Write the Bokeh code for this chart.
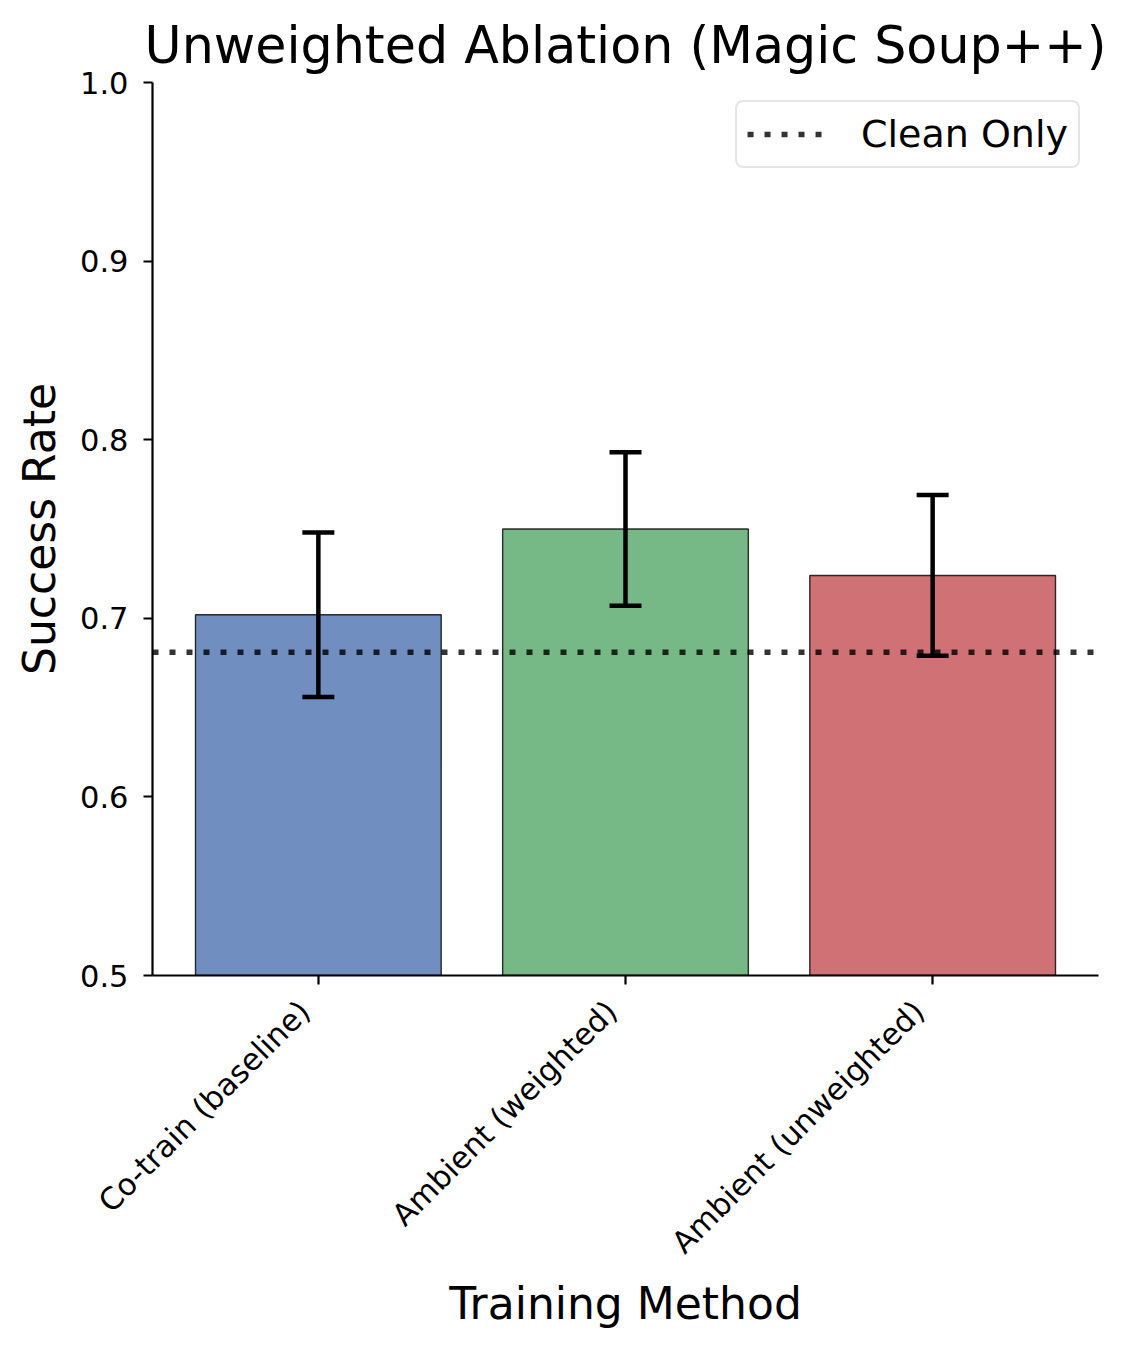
import math
from bokeh.plotting import figure
from bokeh.models import (ColumnDataSource, Range1d, FixedTicker, Whisker, TeeHead,
                          Legend, LegendItem, PrintfTickFormatter)
from bokeh.embed import file_html
from bokeh.resources import INLINE

# ---- data ----
methods = ["Co-train (baseline)", "Ambient (weighted)", "Ambient (unweighted)"]
success = [0.702, 0.750, 0.724]
errors = [0.046, 0.043, 0.045]
bar_colors = ["#4C72B0", "#55A868", "#C44E52"]
clean_only = 0.681
y_ticks = [0.5, 0.6, 0.7, 0.8, 0.9, 1.0]

FONT = "DejaVu Sans"
xs = list(range(len(methods)))
x_lo, x_hi = -0.54, len(methods) - 1 + 0.54
y_lo, y_hi = 0.5, 1.0

src = ColumnDataSource(dict(
    x=xs, top=success, color=bar_colors,
    upper=[s + e for s, e in zip(success, errors)],
    lower=[s - e for s, e in zip(success, errors)],
))

p = figure(width=1112, height=1334, output_backend="svg", toolbar_location=None,
           x_range=Range1d(x_lo, x_hi), y_range=Range1d(y_lo, y_hi),
           min_border_left=152, min_border_right=14, min_border_top=82,
           min_border_bottom=359)

p.title.text = "Unweighted Ablation (Magic Soup++)"
p.title.align = "center"
p.title.text_font = FONT
p.title.text_font_size = "50.7px"
p.title.text_font_style = "normal"
p.title.text_color = "black"
p.title.standoff = 15

p.vbar(x="x", top="top", bottom=0, width=0.8, source=src, fill_color="color",
       fill_alpha=0.8, line_color="black", line_alpha=0.8, line_width=1.4)

ln = p.line(x=[x_lo, x_hi], y=[clean_only, clean_only], line_color="black",
            line_alpha=0.8, line_width=5.5, line_dash="6 11")

w = Whisker(base="x", upper="upper", lower="lower", source=src,
            line_color="black", line_width=4.5, level="overlay",
            upper_head=TeeHead(size=32, line_color="black", line_width=4.5),
            lower_head=TeeHead(size=32, line_color="black", line_width=4.5))
p.add_layout(w)

legend = Legend(items=[LegendItem(label="Clean Only", renderers=[ln])],
                location="top_right")
legend.label_text_font = FONT
legend.label_text_font_size = "38px"
legend.label_text_color = "black"
legend.glyph_width = 80
legend.glyph_height = 30
legend.label_standoff = 34
legend.padding = 10
legend.margin = 18
legend.border_line_color = "#cccccc"
legend.border_line_width = 2.5
legend.border_radius = 8
legend.background_fill_alpha = 0.8
p.add_layout(legend)

p.xgrid.visible = False
p.ygrid.visible = False
p.outline_line_color = None

p.xaxis.ticker = FixedTicker(ticks=xs)
# trailing no-break spaces nudge the right-aligned rotated labels down-left
p.xaxis.major_label_overrides = {i: m + "\u00a0\u00a0" for i, m in zip(xs, methods)}
p.xaxis.major_label_orientation = math.pi / 4
p.yaxis.ticker = FixedTicker(ticks=y_ticks)
p.yaxis.formatter = PrintfTickFormatter(format="%.1f")

p.xaxis.axis_label = "Training Method"
p.yaxis.axis_label = "Success Rate"
for ax in (p.xaxis[0], p.yaxis[0]):
    ax.axis_label_text_font = FONT
    ax.axis_label_text_font_size = "44px"
    ax.axis_label_text_font_style = "normal"
    ax.axis_label_text_color = "black"
    ax.major_label_text_font = FONT
    ax.major_label_text_font_size = "30.5px"
    ax.major_label_text_color = "black"
    ax.axis_line_color = "black"
    ax.axis_line_width = 2.2
    ax.major_tick_line_color = "black"
    ax.major_tick_line_width = 2.2
    ax.major_tick_out = 9
    ax.major_tick_in = 0
    ax.minor_tick_line_color = None

p.yaxis.major_label_standoff = 15
p.yaxis.axis_label_standoff = 12
p.xaxis.major_label_standoff = 8
p.xaxis.axis_label_standoff = 3

open("out.html", "w").write(file_html(p, INLINE))
